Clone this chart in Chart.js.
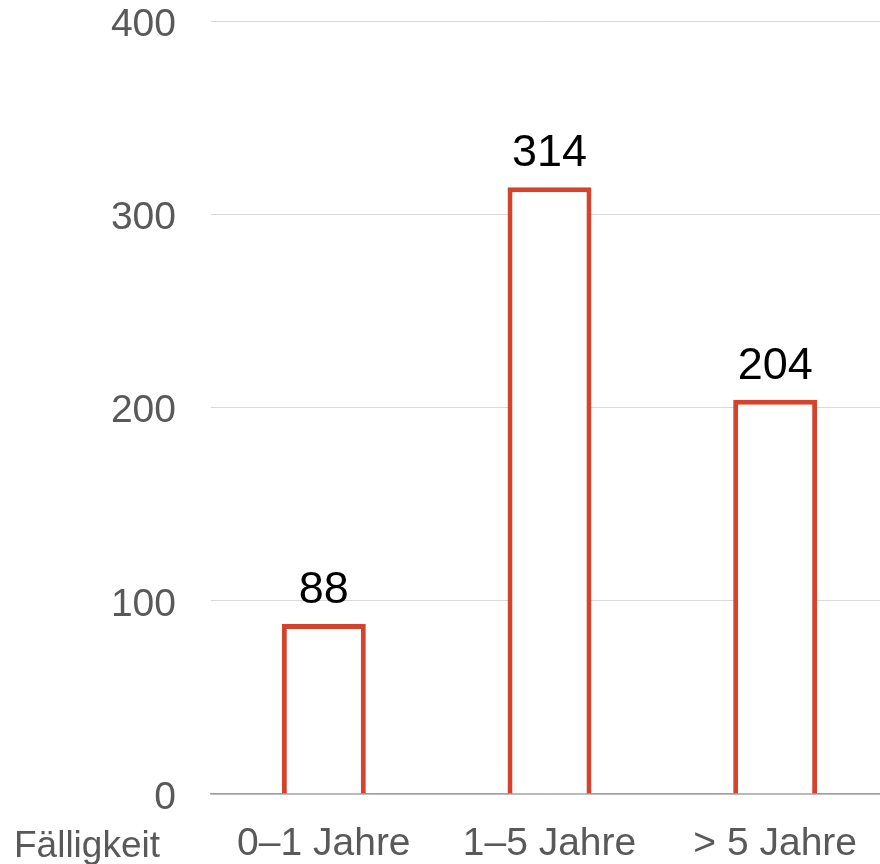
<!DOCTYPE html>
<html>
<head>
<meta charset="utf-8">
<script src="https://cdn.jsdelivr.net/npm/chart.js@4"></script>
<style>
  html, body { margin: 0; padding: 0; background: #fff; }
  #wrap { width: 880px; height: 864px; overflow: hidden; }
</style>
</head>
<body>
<div id="wrap"><canvas id="chart" width="888" height="864"></canvas></div>
<script>
// data
const categories = ['0–1 Jahre', '1–5 Jahre', '> 5 Jahre'];
const values = [88, 314, 204];
const yTicks = [0, 100, 200, 300, 400];
const axisTitle = 'Fälligkeit';

const FONT = '"Liberation Sans", Arial, sans-serif';

// value labels above the bars + the "Fälligkeit" label on the axis row
const labelsPlugin = {
  id: 'labels',
  afterDatasetsDraw(chart) {
    const ctx = chart.ctx;
    const meta = chart.getDatasetMeta(0);
    ctx.save();
    ctx.font = '45px ' + FONT;
    ctx.fillStyle = '#000';
    ctx.textAlign = 'center';
    ctx.textBaseline = 'alphabetic';
    meta.data.forEach((bar, i) => {
      ctx.fillText(String(values[i]), bar.x, bar.y - 21);
    });
    ctx.font = '37px ' + FONT;
    ctx.fillStyle = '#595959';
    ctx.textAlign = 'left';
    ctx.fillText(axisTitle, 14, chart.chartArea.bottom + 63);
    ctx.restore();
  }
};

new Chart(document.getElementById('chart'), {
  type: 'bar',
  data: {
    labels: categories,
    datasets: [{
      data: values,
      backgroundColor: '#ffffff',
      borderColor: '#d5432d',
      borderWidth: 5,
      barPercentage: 0.372,
      categoryPercentage: 1
    }]
  },
  options: {
    responsive: false,
    animation: false,
    layout: { padding: { top: 21, right: 0, bottom: 0, left: 0 } },
    plugins: { legend: { display: false }, tooltip: { enabled: false } },
    scales: {
      x: {
        afterFit(scale) {
          scale.height = 70;
          scale.paddingLeft = 0;
          scale.paddingRight = 0;
        },
        grid: { display: false, drawTicks: false },
        border: { color: '#a0a0a0', width: 1.5 },
        ticks: { color: '#595959', font: { family: FONT, size: 39 }, padding: 27, maxRotation: 0 }
      },
      y: {
        min: 0,
        max: 400,
        afterFit(scale) {
          scale.width = 211;
          scale.paddingTop = 0;
          scale.paddingBottom = 0;
        },
        afterBuildTicks(scale) { scale.ticks = yTicks.map(v => ({ value: v })); },
        grid: { color: '#d9d9d9', lineWidth: 1, drawTicks: false },
        border: { display: false },
        ticks: { color: '#595959', font: { family: FONT, size: 39 }, padding: 35, labelOffset: 4 }
      }
    }
  },
  plugins: [labelsPlugin]
});
</script>
</body>
</html>
